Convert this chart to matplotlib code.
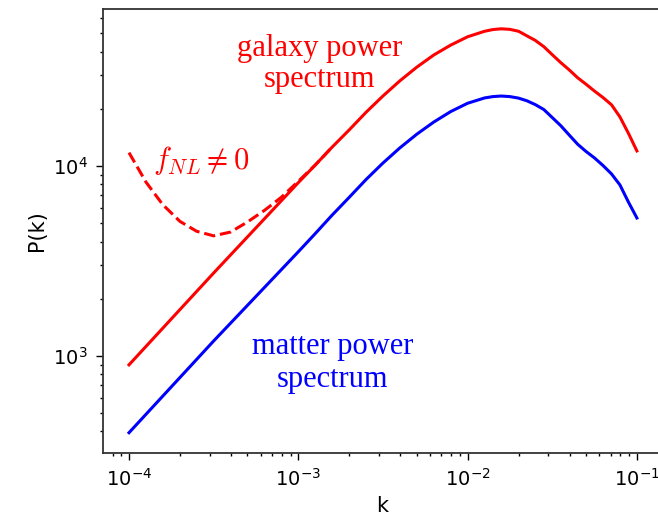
import matplotlib
matplotlib.use("Agg")
from matplotlib import pyplot as plt

# wavenumber k and power spectra
k = [1.0e-4, 3.16e-4, 1.0e-3, 1.26e-3, 1.58e-3, 2.0e-3, 2.51e-3, 3.16e-3,
     3.98e-3, 5.01e-3, 6.31e-3, 7.94e-3, 1.0e-2, 1.26e-2, 1.41e-2, 1.58e-2,
     1.78e-2, 2.0e-2, 2.24e-2, 2.51e-2, 2.82e-2, 3.16e-2, 3.55e-2, 3.98e-2,
     4.47e-2, 5.01e-2, 5.62e-2, 6.31e-2, 7.08e-2, 7.94e-2, 8.91e-2, 1.0e-1]

p_matter = [394, 1197, 3532, 4406, 5495, 6839, 8472, 10351,
            12445, 14689, 17022, 19320, 21380, 22803, 23174, 23335,
            23174, 22751, 22029, 21038, 19815, 17989, 16293, 14555,
            13002, 11912, 11015, 10046, 9078, 7943, 6457, 5321]

p_galaxy = [897, 2729, 8166, 10116, 12531, 15488, 19143, 23335,
            28054, 33113, 38371, 43251, 47863, 51168, 52240, 52723,
            52360, 51168, 48417, 45814, 42462, 38548, 34995, 32063,
            29107, 26915, 24774, 22909, 20989, 18113, 14859, 11995]

# non-gaussian (f_NL != 0) branch at large scales
k_fnl = [1.0e-4, 1.26e-4, 1.58e-4, 2.0e-4, 2.51e-4, 3.16e-4, 3.98e-4,
         5.01e-4, 6.31e-4, 7.94e-4, 1.0e-3, 1.26e-3, 1.58e-3]
p_fnl = [11750, 8222, 6266, 5105, 4529, 4285, 4487,
         5070, 5834, 6839, 8300, 10116, 12531]

fig = plt.figure(figsize=(6.58, 5.25), dpi=100)
ax = fig.add_axes([0.1565, 0.1371, 0.8495, 0.8457])

ax.loglog(k, p_galaxy, color="red", lw=2.2, solid_joinstyle="round")
ax.loglog(k, p_matter, color="blue", lw=2.2, solid_joinstyle="round")
ax.loglog(k_fnl, p_fnl, color="red", lw=2.2, ls="--")

ax.set_xlim(7.02e-5, 0.1406)
ax.set_ylim(308, 67000)

ax.set_xlabel("k", fontsize=15)
ax.set_ylabel("P(k)", fontsize=15)
ax.tick_params(which="major", labelsize=14, length=5, width=1, pad=6)
ax.tick_params(which="minor", length=2.5, width=1)
for s in ax.spines.values():
    s.set_linewidth(1.3)
    s.set_color("#333333")

serif = "Liberation Serif"
ax.text(0.388, 0.894, "galaxy power", transform=ax.transAxes, ha="center",
        va="baseline", color="red", fontsize=22, family=serif)
ax.text(0.388, 0.825, "spectrum", transform=ax.transAxes, ha="center",
        va="baseline", color="red", fontsize=22, family=serif)
ax.text(0.411, 0.223, "matter power", transform=ax.transAxes, ha="center",
        va="baseline", color="blue", fontsize=22, family=serif)
ax.text(0.411, 0.149, "spectrum", transform=ax.transAxes, ha="center",
        va="baseline", color="blue", fontsize=22, family=serif)
ax.text(0.089, 0.64, r"$f_{NL} \neq 0$", transform=ax.transAxes,
        ha="left", va="baseline", color="red", fontsize=22,
        math_fontfamily="cm")

fig.savefig("out.png", dpi=100)
